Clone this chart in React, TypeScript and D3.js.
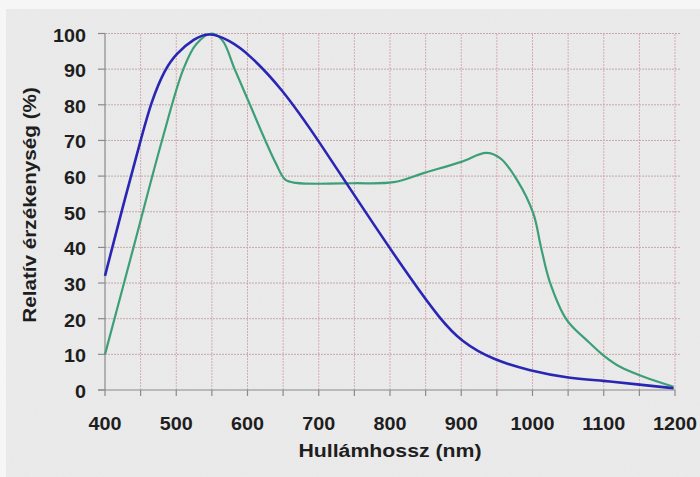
import React from "react";
import * as d3 from "d3";

const blueX = [400, 423, 450, 465, 484, 500, 525, 547, 575, 600, 648, 699, 765, 833, 870, 900, 945, 997, 1048, 1099, 1151, 1198];
const blueY = [32, 50, 70, 81, 90, 94.4, 98.6, 100.4, 98, 94.6, 84.7, 70.2, 50, 30, 20, 13.5, 8.4, 5.4, 3.4, 2.6, 1.5, 0.5];

const greenX = [400, 440, 480, 510, 528, 550, 565, 582, 603.5, 625, 640, 653, 668, 750, 805, 848, 900, 935, 955, 978, 1001, 1012, 1024, 1048, 1076, 1099, 1123, 1156, 1198];
const greenY = [10, 40, 70, 90, 97, 100, 98, 90, 80, 70, 63.5, 59, 58.1, 58, 58.3, 60.9, 64, 66.5, 65, 59, 49.6, 40, 30.5, 19.7, 14, 9.8, 6.5, 3.7, 0.9];

const xTicks = [400, 500, 600, 700, 800, 900, 1000, 1100, 1200];
const yTicks = [0, 10, 20, 30, 40, 50, 60, 70, 80, 90, 100];
const xGrid = [450, 500, 550, 600, 650, 700, 750, 800, 850, 900, 950, 1000, 1050, 1100, 1150, 1200];

const W = 700;
const H = 477;
const x = d3.scaleLinear().domain([400, 1200]).range([105, 675]);
const y = d3.scaleLinear().domain([0, 100]).range([390, 33.5]);

function pts(xs: number[], ys: number[]): [number, number][] {
  return xs.map((v, i) => [v, ys[i]]);
}

function SText(props: { x: number; y: number; size: number; anchor: string; rotate?: number; sx?: number; children: React.ReactNode }) {
  const sx = props.sx ?? 1.13;
  const rot = props.rotate ? ` rotate(${props.rotate})` : "";
  return (
    <text
      transform={`translate(${props.x},${props.y})${rot} scale(${sx},1)`}
      textAnchor={props.anchor}
      fontSize={props.size}
      fontWeight="bold"
      fill="#1e1e1e"
    >
      {props.children}
    </text>
  );
}

export default function App() {
  const greenLine = d3
    .line<[number, number]>()
    .x((d) => x(d[0]))
    .y((d) => y(d[1]))
    .curve(d3.curveCatmullRom.alpha(0.5));
  const blueLine = d3
    .line<[number, number]>()
    .x((d) => x(d[0]))
    .y((d) => y(d[1]))
    .curve(d3.curveBasis);
  const font = "'Liberation Sans', Arial, sans-serif";
  return (
    <svg
      width={W}
      height={H}
      style={{ position: "fixed", left: 0, top: 0 }}
      fontFamily={font}
    >
      <defs>
        <filter id="noise" x="0" y="0" width="100%" height="100%">
          <feTurbulence type="fractalNoise" baseFrequency="0.9" numOctaves={2} seed={3} result="n" />
          <feColorMatrix type="matrix" values="0 0 0 0 0.5  0 0 0 0 0.5  0 0 0 0 0.5  0 0 0 0.10 0" />
        </filter>
      </defs>
      <rect x={0} y={0} width={W} height={H} fill="#f6f6f6" />
      <rect x={6} y={9} width={W - 6} height={H - 9} fill="#ececec" />
      <rect x={6} y={9} width={W - 6} height={H - 9} filter="url(#noise)" />
      {/* horizontal grid */}
      {yTicks.filter((t) => t > 0).map((t) => (
        <line
          key={"hg" + t}
          x1={x(400)}
          x2={x(1200) + 5}
          y1={y(t)}
          y2={y(t)}
          stroke="#b88c92"
          strokeWidth={1}
          strokeDasharray="2,1"
          opacity={0.7}
        />
      ))}
      {/* vertical grid */}
      {xGrid.map((t) => (
        <line
          key={"vg" + t}
          x1={x(t)}
          x2={x(t)}
          y1={y(0)}
          y2={y(100)}
          stroke="#d49aa4"
          strokeWidth={1}
          strokeDasharray="2,1"
          opacity={0.8}
        />
      ))}
      {/* axes */}
      <line x1={x(400)} x2={x(400)} y1={y(0)} y2={y(100)} stroke="#8a8a8a" strokeWidth={1.2} />
      <line x1={x(400) - 7} x2={x(1200)} y1={y(0)} y2={y(0)} stroke="#8a8a8a" strokeWidth={1.2} />
      {yTicks.map((t) => (
        <line key={"yt" + t} x1={x(400) - 7} x2={x(400)} y1={y(t)} y2={y(t)} stroke="#8a8a8a" strokeWidth={1.2} />
      ))}
      {xGrid.concat([400]).map((t) => (
        <line key={"xt" + t} x1={x(t)} x2={x(t)} y1={y(0)} y2={y(0) + 6} stroke="#8a8a8a" strokeWidth={1.2} />
      ))}
      {/* curves */}
      <path d={greenLine(pts(greenX, greenY)) || ""} fill="none" stroke="#3d9f78" strokeWidth={2.2} />
      <path d={blueLine(pts(blueX, blueY)) || ""} fill="none" stroke="#2a26b4" strokeWidth={2.6} />
      {/* tick labels */}
      {yTicks.map((t) => (
        <SText key={"yl" + t} x={86} y={y(t) + 8} size={17.5} anchor="end">
          {t}
        </SText>
      ))}
      {xTicks.map((t) => (
        <SText key={"xl" + t} x={x(t)} y={430} size={17.5} anchor="middle">
          {t}
        </SText>
      ))}
      <SText x={390} y={457} size={18.5} anchor="middle" sx={1.15}>
        Hullámhossz (nm)
      </SText>
      <SText x={36} y={205} size={18} anchor="middle" rotate={-90} sx={1.15}>
        Relatív érzékenység (%)
      </SText>
    </svg>
  );
}
